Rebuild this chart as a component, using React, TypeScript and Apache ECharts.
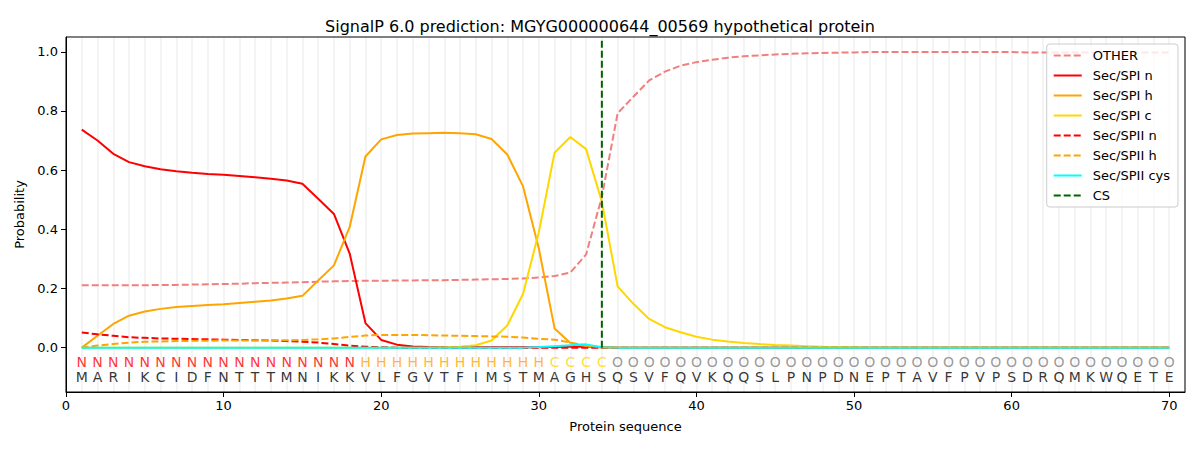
import React, { useEffect, useRef } from "react";
import * as echarts from "echarts";

const sequence = "MARIKCIDFNTTTMNIKKVLFGVTFIMSTMAGHSQSVFQVKQQSLPNPDNEPTAVFPVPSDRQMKWQETE".split("");
const regionLabels = "NNNNNNNNNNNNNNNNNNHHHHHHHHHHHHCCCCOOOOOOOOOOOOOOOOOOOOOOOOOOOOOOOOOOOO".split("");

const other = [
  0.211, 0.211, 0.211, 0.211, 0.211, 0.212, 0.212, 0.213, 0.214, 0.215,
  0.216, 0.218, 0.219, 0.220, 0.221, 0.223, 0.224, 0.225, 0.226, 0.226,
  0.227, 0.227, 0.228, 0.228, 0.229, 0.230, 0.231, 0.232, 0.234, 0.237,
  0.242, 0.254, 0.315, 0.51, 0.792, 0.848, 0.903, 0.933, 0.953, 0.965,
  0.973, 0.980, 0.985, 0.988, 0.991, 0.993, 0.995, 0.996, 0.997, 0.998,
  0.999, 0.999, 0.999, 0.999, 0.999, 0.999, 0.999, 0.999, 0.999, 0.999,
  0.998, 0.998, 0.998, 0.998, 0.998, 0.998, 0.998, 0.998, 0.998, 0.998,
];
const spiN = [
  0.737, 0.70, 0.655, 0.627, 0.613, 0.603, 0.596, 0.591, 0.587, 0.584,
  0.580, 0.576, 0.571, 0.565, 0.554, 0.503, 0.452, 0.318, 0.083, 0.026,
  0.010, 0.004, 0.002, 0.001, 0.001, 0.001, 0.001, 0.001, 0.001, 0.001,
  0.002, 0.003, 0.003, 0.001, 0, 0, 0, 0, 0, 0,
  0, 0, 0, 0, 0, 0, 0, 0, 0, 0,
  0, 0, 0, 0, 0, 0, 0, 0, 0, 0,
  0, 0, 0, 0, 0, 0, 0, 0, 0, 0,
];
const spiH = [
  0, 0.040, 0.080, 0.108, 0.122, 0.131, 0.137, 0.141, 0.144, 0.147,
  0.151, 0.155, 0.159, 0.166, 0.175, 0.227, 0.278, 0.408, 0.646, 0.704,
  0.719, 0.724, 0.725, 0.726, 0.725, 0.721, 0.705, 0.653, 0.545, 0.335,
  0.065, 0.016, 0.005, 0.001, 0, 0, 0, 0, 0, 0,
  0, 0, 0, 0, 0, 0, 0, 0, 0, 0,
  0, 0, 0, 0, 0, 0, 0, 0, 0, 0,
  0, 0, 0, 0, 0, 0, 0, 0, 0, 0,
];
const spiC = [
  0, 0, 0, 0, 0, 0, 0, 0, 0, 0,
  0, 0, 0, 0, 0, 0, 0, 0, 0, 0,
  0, 0, 0, 0.001, 0.003, 0.008, 0.024, 0.075, 0.182, 0.39,
  0.659, 0.712, 0.671, 0.493, 0.207, 0.148, 0.097, 0.069, 0.052, 0.037,
  0.027, 0.021, 0.016, 0.012, 0.009, 0.007, 0.005, 0.003, 0.002, 0.001,
  0, 0, 0, 0, 0, 0, 0, 0, 0, 0,
  0, 0, 0, 0, 0, 0, 0, 0, 0, 0,
];
const spiiN = [
  0.051, 0.045, 0.040, 0.035, 0.033, 0.031, 0.030, 0.029, 0.028, 0.027,
  0.026, 0.025, 0.024, 0.022, 0.020, 0.017, 0.012, 0.007, 0.003, 0.001,
  0, 0, 0, 0, 0, 0, 0, 0, 0, 0,
  0, 0, 0, 0, 0, 0, 0, 0, 0, 0,
  0, 0, 0, 0, 0, 0, 0, 0, 0, 0,
  0, 0, 0, 0, 0, 0, 0, 0, 0, 0,
  0, 0, 0, 0, 0, 0, 0, 0, 0, 0,
];
const spiiH = [
  0, 0.007, 0.012, 0.017, 0.020, 0.021, 0.022, 0.023, 0.023, 0.024,
  0.024, 0.024, 0.025, 0.025, 0.026, 0.028, 0.031, 0.036, 0.041, 0.043,
  0.043, 0.043, 0.042, 0.041, 0.040, 0.039, 0.038, 0.037, 0.034, 0.030,
  0.027, 0.017, 0.007, 0.001, 0, 0, 0, 0, 0, 0,
  0, 0, 0, 0, 0, 0, 0, 0, 0, 0,
  0, 0, 0, 0, 0, 0, 0, 0, 0, 0,
  0, 0, 0, 0, 0, 0, 0, 0, 0, 0,
];
const spiiCys = [
  0, 0, 0, 0, 0, 0, 0, 0, 0, 0,
  0, 0, 0, 0, 0, 0, 0, 0, 0, 0,
  0, 0, 0, 0, 0, 0, 0, 0, 0, 0.002,
  0.005, 0.008, 0.011, 0.001, 0, 0, 0, 0, 0, 0,
  0, 0, 0, 0, 0, 0, 0, 0, 0, 0,
  0, 0, 0, 0, 0, 0, 0, 0, 0, 0,
  0, 0, 0, 0, 0, 0, 0, 0, 0, 0,
];
const csPosition = 34;
const csSpan = [0, 1.04];
const xTicks = [0, 10, 20, 30, 40, 50, 60, 70];
const yTicks = [0, 0.2, 0.4, 0.6, 0.8, 1.0];

const regionColors: Record<string, string> = {
  N: "#ff0000",
  H: "#ffa500",
  C: "#ffd700",
  O: "#808080",
};

const FONT = "DejaVu Sans";

function toPoints(vals: number[]) {
  return vals.map((v, i) => [i + 1, v]);
}

export default function App() {
  const ref = useRef<HTMLDivElement>(null);
  useEffect(() => {
    document.body.style.margin = "0";
    if (!ref.current) return;
    const chart = echarts.init(ref.current, undefined, { renderer: "svg" });
    const lineSeries = (name: string, data: number[], color: string, dashed: boolean) => ({
      name,
      type: "line",
      xAxisIndex: 0,
      data: toPoints(data),
      symbol: "none",
      lineStyle: { color, width: 2, type: dashed ? [7, 3] : "solid" },
      itemStyle: { color },
      z: 3,
    });
    const option: any = {
      animation: false,
      textStyle: { fontFamily: FONT },
      title: {
        text: "SignalP 6.0 prediction: MGYG000000644_00569 hypothetical protein",
        left: "center",
        top: 13,
        textStyle: { fontFamily: FONT, fontSize: 16, fontWeight: "normal", color: "#000" },
      },
      grid: {
        left: 66,
        right: 15,
        top: 37,
        bottom: 58,
        show: true,
        borderColor: "#000",
        borderWidth: 1,
        backgroundColor: "transparent",
        z: 5,
      },
      legend: {
        orient: "vertical",
        right: 22,
        top: 44,
        itemWidth: 28,
        itemHeight: 14,
        itemGap: 7,
        padding: [5, 8, 5, 6],
        borderColor: "#cccccc",
        borderWidth: 1,
        borderRadius: 3,
        backgroundColor: "rgba(255,255,255,0.8)",
        itemStyle: { opacity: 0 },
        textStyle: { fontFamily: FONT, fontSize: 13, color: "#000", padding: [0, 0, 0, 6] },
        data: ["OTHER", "Sec/SPI n", "Sec/SPI h", "Sec/SPI c", "Sec/SPII n", "Sec/SPII h", "Sec/SPII cys", "CS"],
      },
      xAxis: [
        {
          type: "value",
          min: 0,
          max: 71,
          interval: 1,
          axisLine: { show: false },
          axisTick: { show: false },
          axisLabel: { show: false },
          splitLine: { show: true, lineStyle: { color: "#f0f0f0", width: 1.5 } },
        },
        {
          type: "value",
          min: 0,
          max: 71,
          position: "bottom",
          name: "Protein sequence",
          nameLocation: "middle",
          nameGap: 28,
          nameTextStyle: { fontFamily: FONT, fontSize: 13, color: "#000" },
          axisLine: { show: true, lineStyle: { color: "#000", width: 1 } },
          axisTick: { show: true, length: 5, customValues: xTicks, lineStyle: { color: "#000" } },
          axisLabel: {
            show: true,
            customValues: xTicks,
            margin: 7,
            fontFamily: FONT,
            fontSize: 13,
            color: "#000",
          },
          splitLine: { show: false },
        },
      ],
      yAxis: {
        type: "value",
        min: -0.15,
        max: 1.05,
        name: "Probability",
        nameLocation: "middle",
        nameGap: 40,
        nameTextStyle: { fontFamily: FONT, fontSize: 13, color: "#000" },
        axisLine: { show: true, lineStyle: { color: "#000", width: 1 } },
        axisTick: { show: true, length: 5, customValues: yTicks, lineStyle: { color: "#000" } },
        axisLabel: {
          show: true,
          customValues: yTicks,
          margin: 8,
          fontFamily: FONT,
          fontSize: 13,
          color: "#000",
          formatter: (v: number) => v.toFixed(1),
        },
        splitLine: { show: false },
      },
      series: [
        lineSeries("OTHER", other, "#f08080", true),
        lineSeries("Sec/SPI n", spiN, "#ff0000", false),
        lineSeries("Sec/SPI h", spiH, "#ffa500", false),
        lineSeries("Sec/SPI c", spiC, "#ffd700", false),
        lineSeries("Sec/SPII n", spiiN, "#ff0000", true),
        lineSeries("Sec/SPII h", spiiH, "#ffa500", true),
        lineSeries("Sec/SPII cys", spiiCys, "#00ffff", false),
        {
          name: "CS",
          type: "line",
          xAxisIndex: 0,
          data: csSpan.map((y) => [csPosition, y]),
          symbol: "none",
          lineStyle: { color: "#006400", width: 2, type: [7, 3] },
          itemStyle: { color: "#006400" },
          z: 4,
        },
        {
          type: "scatter",
          xAxisIndex: 0,
          symbolSize: 0,
          silent: true,
          data: regionLabels.map((l, i) => ({
            value: [i + 1, -0.0475, l],
            label: { color: regionColors[l] },
          })),
          label: {
            show: true,
            position: "inside",
            formatter: (p: any) => p.value[2],
            fontFamily: FONT,
            fontSize: 14,
          },
        },
        {
          type: "scatter",
          xAxisIndex: 0,
          symbolSize: 0,
          silent: true,
          data: sequence.map((a, i) => [i + 1, -0.098, a]),
          label: {
            show: true,
            position: "inside",
            formatter: (p: any) => p.value[2],
            fontFamily: FONT,
            fontSize: 14,
            color: "#000",
          },
        },
      ],
    };
    chart.setOption(option);
    return () => chart.dispose();
  }, []);
  return <div ref={ref} style={{ width: 1200, height: 450 }} />;
}
